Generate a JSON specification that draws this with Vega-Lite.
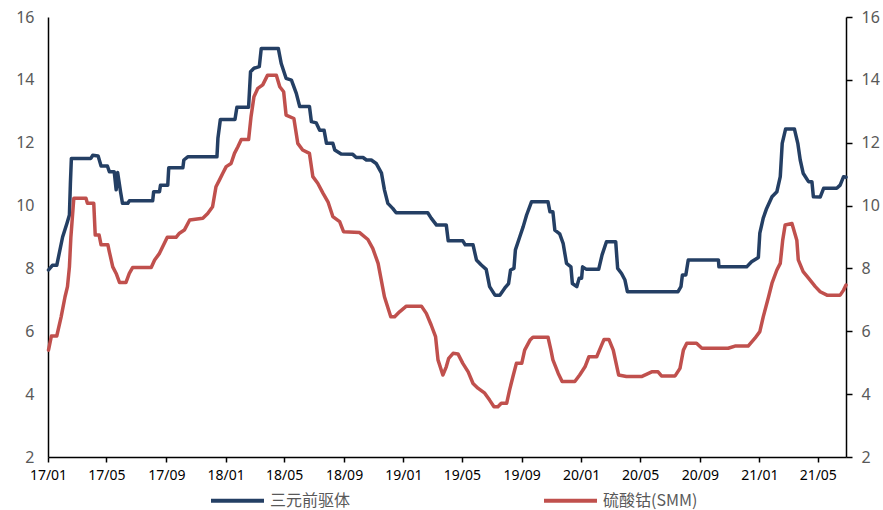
{
  "$schema": "https://vega.github.io/schema/vega-lite/v6.json",
  "width": 798,
  "height": 440,
  "autosize": "none",
  "padding": {"left": 48, "top": 17, "right": 37, "bottom": 53},
  "background": "white",
  "config": {
    "view": {"stroke": null},
    "axis": {"grid": false, "domainColor": "#000000", "domainWidth": 1.5, "tickColor": "#000000", "tickWidth": 1.5, "labelFont": "Noto Sans", "titleFont": "Noto Sans"}
  },
  "data": {"values": [
    {"date":"2017-01-02","series":"三元前驱体","value":7.95},
    {"date":"2017-01-10","series":"三元前驱体","value":8.1},
    {"date":"2017-01-19","series":"三元前驱体","value":8.1},
    {"date":"2017-01-31","series":"三元前驱体","value":9.0},
    {"date":"2017-02-09","series":"三元前驱体","value":9.44},
    {"date":"2017-02-14","series":"三元前驱体","value":9.7},
    {"date":"2017-02-16","series":"三元前驱体","value":10.7},
    {"date":"2017-02-18","series":"三元前驱体","value":11.5},
    {"date":"2017-03-30","series":"三元前驱体","value":11.5},
    {"date":"2017-04-03","series":"三元前驱体","value":11.6},
    {"date":"2017-04-14","series":"三元前驱体","value":11.58},
    {"date":"2017-04-20","series":"三元前驱体","value":11.26},
    {"date":"2017-05-03","series":"三元前驱体","value":11.26},
    {"date":"2017-05-07","series":"三元前驱体","value":11.08},
    {"date":"2017-05-17","series":"三元前驱体","value":11.08},
    {"date":"2017-05-21","series":"三元前驱体","value":10.5},
    {"date":"2017-05-24","series":"三元前驱体","value":11.05},
    {"date":"2017-05-30","series":"三元前驱体","value":10.44},
    {"date":"2017-06-03","series":"三元前驱体","value":10.07},
    {"date":"2017-06-14","series":"三元前驱体","value":10.07},
    {"date":"2017-06-17","series":"三元前驱体","value":10.15},
    {"date":"2017-08-04","series":"三元前驱体","value":10.15},
    {"date":"2017-08-06","series":"三元前驱体","value":10.44},
    {"date":"2017-08-18","series":"三元前驱体","value":10.44},
    {"date":"2017-08-20","series":"三元前驱体","value":10.65},
    {"date":"2017-09-04","series":"三元前驱体","value":10.65},
    {"date":"2017-09-06","series":"三元前驱体","value":11.2},
    {"date":"2017-10-05","series":"三元前驱体","value":11.2},
    {"date":"2017-10-07","series":"三元前驱体","value":11.45},
    {"date":"2017-10-15","series":"三元前驱体","value":11.55},
    {"date":"2017-12-14","series":"三元前驱体","value":11.55},
    {"date":"2017-12-16","series":"三元前驱体","value":12.14},
    {"date":"2017-12-21","series":"三元前驱体","value":12.74},
    {"date":"2018-01-20","series":"三元前驱体","value":12.74},
    {"date":"2018-01-24","series":"三元前驱体","value":13.13},
    {"date":"2018-02-17","series":"三元前驱体","value":13.13},
    {"date":"2018-02-21","series":"三元前驱体","value":14.26},
    {"date":"2018-02-28","series":"三元前驱体","value":14.37},
    {"date":"2018-03-11","series":"三元前驱体","value":14.42},
    {"date":"2018-03-15","series":"三元前驱体","value":15.0},
    {"date":"2018-04-19","series":"三元前驱体","value":15.0},
    {"date":"2018-04-25","series":"三元前驱体","value":14.52},
    {"date":"2018-05-05","series":"三元前驱体","value":14.05},
    {"date":"2018-05-16","series":"三元前驱体","value":13.99},
    {"date":"2018-05-26","series":"三元前驱体","value":13.57},
    {"date":"2018-06-02","series":"三元前驱体","value":13.15},
    {"date":"2018-06-22","series":"三元前驱体","value":13.15},
    {"date":"2018-06-26","series":"三元前驱体","value":12.67},
    {"date":"2018-07-06","series":"三元前驱体","value":12.63},
    {"date":"2018-07-13","series":"三元前驱体","value":12.4},
    {"date":"2018-07-22","series":"三元前驱体","value":12.4},
    {"date":"2018-07-27","series":"三元前驱体","value":11.98},
    {"date":"2018-08-09","series":"三元前驱体","value":11.98},
    {"date":"2018-08-13","series":"三元前驱体","value":11.77},
    {"date":"2018-08-26","series":"三元前驱体","value":11.64},
    {"date":"2018-09-19","series":"三元前驱体","value":11.63},
    {"date":"2018-09-26","series":"三元前驱体","value":11.53},
    {"date":"2018-10-10","series":"三元前驱体","value":11.53},
    {"date":"2018-10-17","series":"三元前驱体","value":11.45},
    {"date":"2018-10-27","series":"三元前驱体","value":11.45},
    {"date":"2018-11-06","series":"三元前驱体","value":11.34},
    {"date":"2018-11-17","series":"三元前驱体","value":11.03},
    {"date":"2018-11-23","series":"三元前驱体","value":10.5},
    {"date":"2018-11-30","series":"三元前驱体","value":10.07},
    {"date":"2018-12-10","series":"三元前驱体","value":9.91},
    {"date":"2018-12-17","series":"三元前驱体","value":9.77},
    {"date":"2019-02-20","series":"三元前驱体","value":9.77},
    {"date":"2019-02-27","series":"三元前驱体","value":9.6},
    {"date":"2019-03-10","series":"三元前驱体","value":9.38},
    {"date":"2019-03-30","series":"三元前驱体","value":9.38},
    {"date":"2019-04-03","series":"三元前驱体","value":8.88},
    {"date":"2019-05-03","series":"三元前驱体","value":8.88},
    {"date":"2019-05-08","series":"三元前驱体","value":8.75},
    {"date":"2019-05-24","series":"三元前驱体","value":8.75},
    {"date":"2019-05-31","series":"三元前驱体","value":8.27},
    {"date":"2019-06-10","series":"三元前驱体","value":8.11},
    {"date":"2019-06-20","series":"三元前驱体","value":7.97},
    {"date":"2019-06-27","series":"三元前驱体","value":7.42},
    {"date":"2019-07-08","series":"三元前驱体","value":7.15},
    {"date":"2019-07-18","series":"三元前驱体","value":7.15},
    {"date":"2019-07-28","series":"三元前驱体","value":7.37},
    {"date":"2019-08-05","series":"三元前驱体","value":7.52},
    {"date":"2019-08-09","series":"三元前驱体","value":7.95},
    {"date":"2019-08-16","series":"三元前驱体","value":8.0},
    {"date":"2019-08-19","series":"三元前驱体","value":8.59},
    {"date":"2019-08-28","series":"三元前驱体","value":9.01},
    {"date":"2019-09-04","series":"三元前驱体","value":9.33},
    {"date":"2019-09-11","series":"三元前驱体","value":9.7},
    {"date":"2019-09-21","series":"三元前驱体","value":10.12},
    {"date":"2019-10-25","series":"三元前驱体","value":10.12},
    {"date":"2019-10-29","series":"三元前驱体","value":9.8},
    {"date":"2019-11-04","series":"三元前驱体","value":9.8},
    {"date":"2019-11-08","series":"三元前驱体","value":9.22},
    {"date":"2019-11-18","series":"三元前驱体","value":9.1},
    {"date":"2019-11-25","series":"三元前驱体","value":8.8},
    {"date":"2019-12-02","series":"三元前驱体","value":8.16},
    {"date":"2019-12-11","series":"三元前驱体","value":8.05},
    {"date":"2019-12-14","series":"三元前驱体","value":7.52},
    {"date":"2019-12-23","series":"三元前驱体","value":7.42},
    {"date":"2019-12-28","series":"三元前驱体","value":7.69},
    {"date":"2020-01-02","series":"三元前驱体","value":7.69},
    {"date":"2020-01-04","series":"三元前驱体","value":8.05},
    {"date":"2020-01-12","series":"三元前驱体","value":7.97},
    {"date":"2020-02-06","series":"三元前驱体","value":7.97},
    {"date":"2020-02-13","series":"三元前驱体","value":8.43},
    {"date":"2020-02-22","series":"三元前驱体","value":8.85},
    {"date":"2020-03-12","series":"三元前驱体","value":8.85},
    {"date":"2020-03-16","series":"三元前驱体","value":8.0},
    {"date":"2020-03-24","series":"三元前驱体","value":7.84},
    {"date":"2020-03-31","series":"三元前驱体","value":7.63},
    {"date":"2020-04-05","series":"三元前驱体","value":7.26},
    {"date":"2020-07-18","series":"三元前驱体","value":7.26},
    {"date":"2020-07-24","series":"三元前驱体","value":7.42},
    {"date":"2020-07-27","series":"三元前驱体","value":7.79},
    {"date":"2020-08-03","series":"三元前驱体","value":7.79},
    {"date":"2020-08-08","series":"三元前驱体","value":8.27},
    {"date":"2020-10-09","series":"三元前驱体","value":8.27},
    {"date":"2020-10-10","series":"三元前驱体","value":8.05},
    {"date":"2020-12-06","series":"三元前驱体","value":8.05},
    {"date":"2020-12-16","series":"三元前驱体","value":8.21},
    {"date":"2020-12-30","series":"三元前驱体","value":8.35},
    {"date":"2021-01-02","series":"三元前驱体","value":9.12},
    {"date":"2021-01-09","series":"三元前驱体","value":9.6},
    {"date":"2021-01-16","series":"三元前驱体","value":9.91},
    {"date":"2021-01-27","series":"三元前驱体","value":10.28},
    {"date":"2021-02-06","series":"三元前驱体","value":10.44},
    {"date":"2021-02-13","series":"三元前驱体","value":10.92},
    {"date":"2021-02-17","series":"三元前驱体","value":11.98},
    {"date":"2021-02-24","series":"三元前驱体","value":12.44},
    {"date":"2021-03-14","series":"三元前驱体","value":12.44},
    {"date":"2021-03-21","series":"三元前驱体","value":11.98},
    {"date":"2021-03-26","series":"三元前驱体","value":11.45},
    {"date":"2021-04-01","series":"三元前驱体","value":11.03},
    {"date":"2021-04-12","series":"三元前驱体","value":10.76},
    {"date":"2021-04-19","series":"三元前驱体","value":10.76},
    {"date":"2021-04-22","series":"三元前驱体","value":10.28},
    {"date":"2021-05-06","series":"三元前驱体","value":10.27},
    {"date":"2021-05-13","series":"三元前驱体","value":10.55},
    {"date":"2021-06-09","series":"三元前驱体","value":10.55},
    {"date":"2021-06-16","series":"三元前驱体","value":10.65},
    {"date":"2021-06-23","series":"三元前驱体","value":10.92},
    {"date":"2021-06-28","series":"三元前驱体","value":10.9},
    {"date":"2017-01-02","series":"硫酸钴(SMM)","value":5.4},
    {"date":"2017-01-08","series":"硫酸钴(SMM)","value":5.85},
    {"date":"2017-01-19","series":"硫酸钴(SMM)","value":5.85},
    {"date":"2017-01-28","series":"硫酸钴(SMM)","value":6.46},
    {"date":"2017-02-05","series":"硫酸钴(SMM)","value":7.1},
    {"date":"2017-02-10","series":"硫酸钴(SMM)","value":7.42},
    {"date":"2017-02-14","series":"硫酸钴(SMM)","value":8.05},
    {"date":"2017-02-17","series":"硫酸钴(SMM)","value":9.0},
    {"date":"2017-02-23","series":"硫酸钴(SMM)","value":10.23},
    {"date":"2017-03-20","series":"硫酸钴(SMM)","value":10.23},
    {"date":"2017-03-23","series":"硫酸钴(SMM)","value":10.07},
    {"date":"2017-04-05","series":"硫酸钴(SMM)","value":10.07},
    {"date":"2017-04-08","series":"硫酸钴(SMM)","value":9.06},
    {"date":"2017-04-16","series":"硫酸钴(SMM)","value":9.06},
    {"date":"2017-04-20","series":"硫酸钴(SMM)","value":8.75},
    {"date":"2017-05-04","series":"硫酸钴(SMM)","value":8.75},
    {"date":"2017-05-07","series":"硫酸钴(SMM)","value":8.53},
    {"date":"2017-05-14","series":"硫酸钴(SMM)","value":8.05},
    {"date":"2017-05-21","series":"硫酸钴(SMM)","value":7.84},
    {"date":"2017-05-28","series":"硫酸钴(SMM)","value":7.55},
    {"date":"2017-06-10","series":"硫酸钴(SMM)","value":7.55},
    {"date":"2017-06-17","series":"硫酸钴(SMM)","value":7.84},
    {"date":"2017-06-24","series":"硫酸钴(SMM)","value":8.03},
    {"date":"2017-08-01","series":"硫酸钴(SMM)","value":8.03},
    {"date":"2017-08-08","series":"硫酸钴(SMM)","value":8.27},
    {"date":"2017-08-18","series":"硫酸钴(SMM)","value":8.48},
    {"date":"2017-08-28","series":"硫酸钴(SMM)","value":8.8},
    {"date":"2017-09-03","series":"硫酸钴(SMM)","value":8.99},
    {"date":"2017-09-21","series":"硫酸钴(SMM)","value":8.99},
    {"date":"2017-09-28","series":"硫酸钴(SMM)","value":9.12},
    {"date":"2017-10-08","series":"硫酸钴(SMM)","value":9.22},
    {"date":"2017-10-19","series":"硫酸钴(SMM)","value":9.54},
    {"date":"2017-11-15","series":"硫酸钴(SMM)","value":9.6},
    {"date":"2017-11-25","series":"硫酸钴(SMM)","value":9.75},
    {"date":"2017-12-05","series":"硫酸钴(SMM)","value":9.96},
    {"date":"2017-12-12","series":"硫酸钴(SMM)","value":10.6},
    {"date":"2017-12-19","series":"硫酸钴(SMM)","value":10.81},
    {"date":"2017-12-26","series":"硫酸钴(SMM)","value":11.03},
    {"date":"2018-01-02","series":"硫酸钴(SMM)","value":11.24},
    {"date":"2018-01-12","series":"硫酸钴(SMM)","value":11.34},
    {"date":"2018-01-19","series":"硫酸钴(SMM)","value":11.66},
    {"date":"2018-01-26","series":"硫酸钴(SMM)","value":11.87},
    {"date":"2018-02-02","series":"硫酸钴(SMM)","value":12.1},
    {"date":"2018-02-17","series":"硫酸钴(SMM)","value":12.1},
    {"date":"2018-02-22","series":"硫酸钴(SMM)","value":12.83},
    {"date":"2018-02-28","series":"硫酸钴(SMM)","value":13.46},
    {"date":"2018-03-08","series":"硫酸钴(SMM)","value":13.73},
    {"date":"2018-03-18","series":"硫酸钴(SMM)","value":13.84},
    {"date":"2018-03-28","series":"硫酸钴(SMM)","value":14.15},
    {"date":"2018-04-15","series":"硫酸钴(SMM)","value":14.15},
    {"date":"2018-04-22","series":"硫酸钴(SMM)","value":13.78},
    {"date":"2018-04-30","series":"硫酸钴(SMM)","value":13.62},
    {"date":"2018-05-05","series":"硫酸钴(SMM)","value":12.88},
    {"date":"2018-05-21","series":"硫酸钴(SMM)","value":12.77},
    {"date":"2018-05-29","series":"硫酸钴(SMM)","value":11.98},
    {"date":"2018-06-08","series":"硫酸钴(SMM)","value":11.77},
    {"date":"2018-06-22","series":"硫酸钴(SMM)","value":11.66},
    {"date":"2018-06-29","series":"硫酸钴(SMM)","value":10.92},
    {"date":"2018-07-09","series":"硫酸钴(SMM)","value":10.71},
    {"date":"2018-07-20","series":"硫酸钴(SMM)","value":10.39},
    {"date":"2018-07-30","series":"硫酸钴(SMM)","value":10.12},
    {"date":"2018-08-09","series":"硫酸钴(SMM)","value":9.65},
    {"date":"2018-08-23","series":"硫酸钴(SMM)","value":9.49},
    {"date":"2018-08-31","series":"硫酸钴(SMM)","value":9.17},
    {"date":"2018-10-03","series":"硫酸钴(SMM)","value":9.14},
    {"date":"2018-10-20","series":"硫酸钴(SMM)","value":8.92},
    {"date":"2018-10-30","series":"硫酸钴(SMM)","value":8.64},
    {"date":"2018-11-10","series":"硫酸钴(SMM)","value":8.16},
    {"date":"2018-11-23","series":"硫酸钴(SMM)","value":7.1},
    {"date":"2018-12-06","series":"硫酸钴(SMM)","value":6.46},
    {"date":"2018-12-14","series":"硫酸钴(SMM)","value":6.46},
    {"date":"2018-12-24","series":"硫酸钴(SMM)","value":6.62},
    {"date":"2019-01-07","series":"硫酸钴(SMM)","value":6.8},
    {"date":"2019-02-07","series":"硫酸钴(SMM)","value":6.8},
    {"date":"2019-02-17","series":"硫酸钴(SMM)","value":6.57},
    {"date":"2019-02-27","series":"硫酸钴(SMM)","value":6.2},
    {"date":"2019-03-08","series":"硫酸钴(SMM)","value":5.83},
    {"date":"2019-03-13","series":"硫酸钴(SMM)","value":5.09},
    {"date":"2019-03-23","series":"硫酸钴(SMM)","value":4.61},
    {"date":"2019-03-30","series":"硫酸钴(SMM)","value":4.87},
    {"date":"2019-04-04","series":"硫酸钴(SMM)","value":5.14},
    {"date":"2019-04-13","series":"硫酸钴(SMM)","value":5.3},
    {"date":"2019-04-23","series":"硫酸钴(SMM)","value":5.28},
    {"date":"2019-05-03","series":"硫酸钴(SMM)","value":4.98},
    {"date":"2019-05-14","series":"硫酸钴(SMM)","value":4.71},
    {"date":"2019-05-24","series":"硫酸钴(SMM)","value":4.34},
    {"date":"2019-06-03","series":"硫酸钴(SMM)","value":4.19},
    {"date":"2019-06-17","series":"硫酸钴(SMM)","value":4.03},
    {"date":"2019-06-27","series":"硫酸钴(SMM)","value":3.81},
    {"date":"2019-07-06","series":"硫酸钴(SMM)","value":3.6},
    {"date":"2019-07-14","series":"硫酸钴(SMM)","value":3.6},
    {"date":"2019-07-21","series":"硫酸钴(SMM)","value":3.71},
    {"date":"2019-08-01","series":"硫酸钴(SMM)","value":3.71},
    {"date":"2019-08-07","series":"硫酸钴(SMM)","value":4.13},
    {"date":"2019-08-14","series":"硫酸钴(SMM)","value":4.56},
    {"date":"2019-08-21","series":"硫酸钴(SMM)","value":4.98},
    {"date":"2019-09-01","series":"硫酸钴(SMM)","value":4.98},
    {"date":"2019-09-07","series":"硫酸钴(SMM)","value":5.4},
    {"date":"2019-09-18","series":"硫酸钴(SMM)","value":5.72},
    {"date":"2019-09-24","series":"硫酸钴(SMM)","value":5.81},
    {"date":"2019-10-25","series":"硫酸钴(SMM)","value":5.81},
    {"date":"2019-10-31","series":"硫酸钴(SMM)","value":5.4},
    {"date":"2019-11-04","series":"硫酸钴(SMM)","value":5.09},
    {"date":"2019-11-15","series":"硫酸钴(SMM)","value":4.66},
    {"date":"2019-11-23","series":"硫酸钴(SMM)","value":4.4},
    {"date":"2019-12-19","series":"硫酸钴(SMM)","value":4.4},
    {"date":"2019-12-29","series":"硫酸钴(SMM)","value":4.61},
    {"date":"2020-01-09","series":"硫酸钴(SMM)","value":4.87},
    {"date":"2020-01-17","series":"硫酸钴(SMM)","value":5.19},
    {"date":"2020-02-02","series":"硫酸钴(SMM)","value":5.19},
    {"date":"2020-02-12","series":"硫酸钴(SMM)","value":5.56},
    {"date":"2020-02-17","series":"硫酸钴(SMM)","value":5.74},
    {"date":"2020-02-27","series":"硫酸钴(SMM)","value":5.74},
    {"date":"2020-03-07","series":"硫酸钴(SMM)","value":5.4},
    {"date":"2020-03-18","series":"硫酸钴(SMM)","value":4.61},
    {"date":"2020-04-03","series":"硫酸钴(SMM)","value":4.56},
    {"date":"2020-05-04","series":"硫酸钴(SMM)","value":4.56},
    {"date":"2020-05-25","series":"硫酸钴(SMM)","value":4.71},
    {"date":"2020-06-07","series":"硫酸钴(SMM)","value":4.71},
    {"date":"2020-06-14","series":"硫酸钴(SMM)","value":4.58},
    {"date":"2020-07-12","series":"硫酸钴(SMM)","value":4.58},
    {"date":"2020-07-22","series":"硫酸钴(SMM)","value":4.82},
    {"date":"2020-07-29","series":"硫酸钴(SMM)","value":5.4},
    {"date":"2020-08-05","series":"硫酸钴(SMM)","value":5.62},
    {"date":"2020-08-25","series":"硫酸钴(SMM)","value":5.62},
    {"date":"2020-09-05","series":"硫酸钴(SMM)","value":5.46},
    {"date":"2020-10-29","series":"硫酸钴(SMM)","value":5.46},
    {"date":"2020-11-12","series":"硫酸钴(SMM)","value":5.53},
    {"date":"2020-12-09","series":"硫酸钴(SMM)","value":5.53},
    {"date":"2020-12-23","series":"硫酸钴(SMM)","value":5.78},
    {"date":"2021-01-02","series":"硫酸钴(SMM)","value":5.99},
    {"date":"2021-01-09","series":"硫酸钴(SMM)","value":6.46},
    {"date":"2021-01-20","series":"硫酸钴(SMM)","value":7.1},
    {"date":"2021-01-27","series":"硫酸钴(SMM)","value":7.53},
    {"date":"2021-02-06","series":"硫酸钴(SMM)","value":7.95},
    {"date":"2021-02-13","series":"硫酸钴(SMM)","value":8.16},
    {"date":"2021-02-18","series":"硫酸钴(SMM)","value":8.9},
    {"date":"2021-02-23","series":"硫酸钴(SMM)","value":9.38},
    {"date":"2021-03-09","series":"硫酸钴(SMM)","value":9.43},
    {"date":"2021-03-19","series":"硫酸钴(SMM)","value":8.9},
    {"date":"2021-03-22","series":"硫酸钴(SMM)","value":8.27},
    {"date":"2021-04-01","series":"硫酸钴(SMM)","value":7.9},
    {"date":"2021-04-12","series":"硫酸钴(SMM)","value":7.69},
    {"date":"2021-04-26","series":"硫酸钴(SMM)","value":7.42},
    {"date":"2021-05-06","series":"硫酸钴(SMM)","value":7.26},
    {"date":"2021-05-20","series":"硫酸钴(SMM)","value":7.15},
    {"date":"2021-06-16","series":"硫酸钴(SMM)","value":7.15},
    {"date":"2021-06-23","series":"硫酸钴(SMM)","value":7.31},
    {"date":"2021-06-28","series":"硫酸钴(SMM)","value":7.47}
  ]},
  "encoding": {
    "x": {
      "field": "date", "type": "temporal",
      "scale": {"type": "utc", "domain": [{"year": 2017, "month": 1, "date": 1, "utc": true}, {"year": 2021, "month": 6, "date": 28, "utc": true}]},
      "axis": {
        "title": null,
        "format": "%y/%m",
        "values": [
          {"year": 2017, "month": 1, "date": 1, "utc": true},
          {"year": 2017, "month": 5, "date": 1, "utc": true},
          {"year": 2017, "month": 9, "date": 1, "utc": true},
          {"year": 2018, "month": 1, "date": 1, "utc": true},
          {"year": 2018, "month": 5, "date": 1, "utc": true},
          {"year": 2018, "month": 9, "date": 1, "utc": true},
          {"year": 2019, "month": 1, "date": 1, "utc": true},
          {"year": 2019, "month": 5, "date": 1, "utc": true},
          {"year": 2019, "month": 9, "date": 1, "utc": true},
          {"year": 2020, "month": 1, "date": 1, "utc": true},
          {"year": 2020, "month": 5, "date": 1, "utc": true},
          {"year": 2020, "month": 9, "date": 1, "utc": true},
          {"year": 2021, "month": 1, "date": 1, "utc": true},
          {"year": 2021, "month": 5, "date": 1, "utc": true}
        ],
        "tickSize": 5,
        "labelPadding": 6,
        "labelFontSize": 14,
        "labelColor": "#000000",
        "labelFlush": false,
        "labelOverlap": false
      }
    }
  },
  "layer": [
    {
      "mark": {"type": "line", "strokeWidth": 3.5, "strokeJoin": "round", "strokeCap": "round"},
      "encoding": {
        "y": {
          "field": "value", "type": "quantitative",
          "scale": {"domain": [2, 16], "nice": false, "zero": false},
          "axis": {"orient": "left", "title": null, "values": [2, 4, 6, 8, 10, 12, 14, 16], "ticks": false, "labelPadding": 14, "labelFontSize": 16, "labelColor": "#595959"}
        },
        "color": {
          "field": "series", "type": "nominal",
          "scale": {"domain": ["三元前驱体", "硫酸钴(SMM)"], "range": ["#243F64", "#C0504D"]},
          "legend": {
            "title": null,
            "orient": "none",
            "direction": "horizontal",
            "legendX": 161,
            "legendY": 455,
            "symbolType": "stroke",
            "symbolSize": 2809,
            "symbolStrokeWidth": 4,
            "labelFont": "Noto Sans CJK SC",
            "labelFontSize": 16,
            "labelColor": "#595959",
            "labelOffset": 4,
            "columnPadding": 185
          }
        }
      }
    },
    {
      "mark": {"type": "line", "opacity": 0},
      "encoding": {
        "y": {
          "field": "value", "type": "quantitative",
          "scale": {"domain": [2, 16], "nice": false, "zero": false},
          "axis": {"orient": "right", "title": null, "values": [2, 4, 6, 8, 10, 12, 14, 16], "tickSize": 6, "labelPadding": 9, "labelFontSize": 16, "labelColor": "#595959"}
        }
      }
    }
  ],
  "resolve": {"axis": {"y": "independent"}}
}
